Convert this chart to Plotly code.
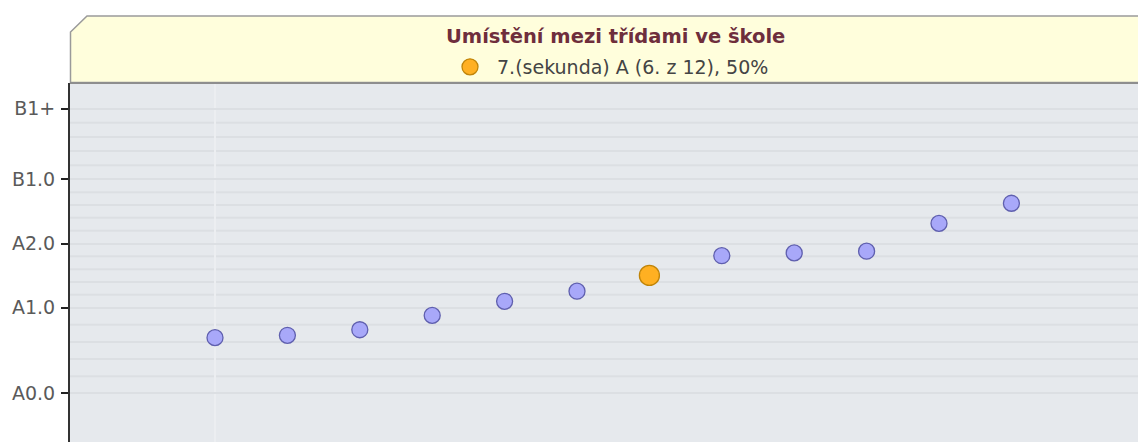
import plotly.graph_objects as go

# ---- data ----
level_labels = ["A0.0", "A1.0", "A2.0", "B1.0", "B1+"]
level_values = [0.0, 4.0, 7.0, 10.0, 13.3]
class_positions = [1, 2, 3, 4, 5, 6, 7, 8, 9, 10, 11, 12]
class_scores = [2.60, 2.71, 2.97, 3.64, 4.30, 4.77, 5.51, 6.43, 6.56, 6.64, 7.94, 8.88]
highlight_index = 6
highlight_name = "7.(sekunda) A (6. z 12), 50%"
chart_title = "Umístění mezi třídami ve škole"

W, H = 1146, 442
OFF = 8  # page body margin
ML = 70 - OFF
MT = 83 - OFF
PW, PH = W - ML, H - MT


def px_x(p):
    return (p - OFF - ML) / PW


def px_y(p):
    return (H - (p - OFF)) / PH


# minor gridlines: 5 subdivisions between consecutive levels
minor_vals = []
for a, b in zip(level_values[:-1], level_values[1:]):
    for k in range(1, 5):
        minor_vals.append(a + (b - a) * k / 5)

other_x = [x for i, x in enumerate(class_positions) if i != highlight_index]
other_y = [y for i, y in enumerate(class_scores) if i != highlight_index]

fig = go.Figure()
fig.add_trace(go.Scatter(
    x=other_x, y=other_y, mode="markers", showlegend=False,
    marker=dict(size=16, color="#A8A8F9", line=dict(color="#5F5FAE", width=1.3)),
    hoverinfo="skip",
))
fig.add_trace(go.Scatter(
    x=[class_positions[highlight_index]], y=[class_scores[highlight_index]],
    mode="markers", name=highlight_name, showlegend=True,
    marker=dict(size=20, color="#FFB022", line=dict(color="#C08408", width=1.3)),
))

grid_color = "#DCDFE3"
shapes = []
for v in minor_vals:
    shapes.append(dict(type="line", xref="paper", yref="y", x0=0, x1=1, y0=v, y1=v,
                       line=dict(color=grid_color, width=2), layer="below"))

# title panel with chamfered top-left corner
y_top, y_bot, y_ch = px_y(16), px_y(82.5), px_y(32)
x_l, x_ch = px_x(70.5), px_x(87)
shapes.append(dict(
    type="path", xref="paper", yref="paper",
    path=f"M {x_l},{y_bot} L {x_l},{y_ch} L {x_ch},{y_top} L 1.01,{y_top} L 1.01,{y_bot} Z",
    fillcolor="#FFFEDC", line=dict(color="#9A9A9A", width=1.5), layer="above",
))
shapes.append(dict(type="line", xref="paper", yref="paper", x0=px_x(70), x1=1.01,
                   y0=px_y(83), y1=px_y(83), line=dict(color="#8E8E8E", width=2)))

# x range: first class at ref px 215, spacing 72.4 px
x_lo = 1 - (215 - 70) / 72.4
x_hi = x_lo + PW / 72.4
# y range: A0.0 at ref px 393.3, 21.4 px per unit
y_hi = (393.3 - 83) / 21.4
y_lo = y_hi - PH / 21.4

fig.update_layout(
    width=W, height=H,
    margin=dict(l=ML, r=0, t=MT, b=0, pad=0),
    paper_bgcolor="white", plot_bgcolor="#E6E9ED",
    shapes=shapes,
    font=dict(family="DejaVu Sans", color="#555555"),
    xaxis=dict(range=[x_lo, x_hi], showticklabels=False, ticks="",
               tickvals=[class_positions[0]], showgrid=True, gridcolor="#ECEEF1", gridwidth=2,
               zeroline=False, showline=False),
    yaxis=dict(range=[y_lo, y_hi], tickvals=level_values, ticktext=level_labels,
               ticks="outside", ticklen=7, tickwidth=2, tickcolor="#222222",
               ticklabelstandoff=2,
               showgrid=True, gridcolor=grid_color, gridwidth=2, zeroline=False,
               showline=True, linecolor="#333333", linewidth=2,
               tickfont=dict(family="DejaVu Sans", size=19, color="#5A5A5A")),
    legend=dict(orientation="h", x=px_x(443), xanchor="left", y=px_y(67), yanchor="middle",
                bgcolor="rgba(0,0,0,0)", font=dict(family="DejaVu Sans", size=19, color="#444444"),
                itemsizing="trace", itemwidth=44),
    annotations=[dict(text=f"<b>{chart_title}</b>", xref="paper", yref="paper",
                      x=px_x(615), y=px_y(37), xanchor="center", yanchor="middle", showarrow=False,
                      font=dict(family="DejaVu Sans", size=19.5, color="#6E2E3C"))],
    showlegend=True,
)

fig.write_html("out.html")
